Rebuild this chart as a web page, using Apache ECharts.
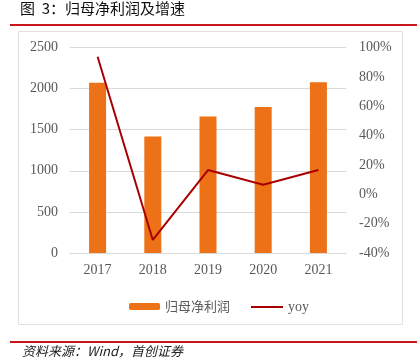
<!DOCTYPE html>
<html><head><meta charset="utf-8">
<script src="https://cdn.jsdelivr.net/npm/echarts@6/dist/echarts.min.js"></script>
<style>html,body{margin:0;padding:0;background:#fff}#c{width:417px;height:361px}</style>
</head><body><div id="c"></div>
<script>
const categories = ['2017', '2018', '2019', '2020', '2021'];
const netProfit = [2070, 1418, 1662, 1777, 2077];
const yoy = [93.7, -31.1, 16.5, 6.5, 16.5];
const leftTicks = [0, 500, 1000, 1500, 2000, 2500];
const rightTicks = [-40, -20, 0, 20, 40, 60, 80, 100];

const chart = echarts.init(document.getElementById('c'), null, {renderer: 'canvas'});
const serif = '"Liberation Serif", "Times New Roman", serif';
const cjk = '"Noto Sans CJK SC", sans-serif';
chart.setOption({
  animation: false,
  backgroundColor: '#fff',
  graphic: [
    {type: 'text', left: 20, top: 1, style: {text: '图  3：归母净利润及增速', font: '15px ' + cjk, fill: '#111'}},
    {type: 'rect', shape: {x: 10, y: 24, width: 407, height: 2}, style: {fill: '#C8161D'}},
    {type: 'rect', shape: {x: 18.5, y: 31.5, width: 384, height: 293}, style: {fill: 'none', stroke: '#E0E0E0', lineWidth: 1}},
    {type: 'rect', shape: {x: 10, y: 341, width: 407, height: 2}, style: {fill: '#C8161D'}},
    {type: 'text', left: 22, top: 345, style: {text: '资料来源：Wind，首创证券', font: 'italic 13px ' + cjk, fill: '#222'}}
  ],
  grid: {left: 70, right: 71, top: 47.5, bottom: 108, containLabel: false},
  legend: [
    {data: ['归母净利润'], left: 124, top: 295, itemWidth: 31, itemHeight: 7, itemGap: 5,
     textStyle: {color: '#595959', fontSize: 13, fontFamily: cjk}},
    {data: ['yoy'], left: 246, top: 295, itemWidth: 32, itemHeight: 2, icon: 'rect', itemGap: 5,
     textStyle: {color: '#595959', fontSize: 14, fontFamily: serif}}
  ],
  xAxis: {
    type: 'category', data: categories,
    axisLine: {lineStyle: {color: '#D9D9D9'}},
    axisTick: {show: false},
    axisLabel: {color: '#595959', fontSize: 14, fontFamily: serif, margin: 10}
  },
  yAxis: [
    {type: 'value', min: leftTicks[0], max: leftTicks[leftTicks.length - 1], interval: 500,
     axisLine: {show: false}, axisTick: {show: false},
     axisLabel: {color: '#595959', fontSize: 14, fontFamily: serif, margin: 12, formatter: v => String(v)},
     splitLine: {lineStyle: {color: '#D9D9D9'}}},
    {type: 'value', min: rightTicks[0], max: rightTicks[rightTicks.length - 1], interval: 20,
     axisLine: {show: false}, axisTick: {show: false},
     axisLabel: {color: '#595959', fontSize: 14, fontFamily: serif, margin: 13, formatter: v => v + '%'},
     splitLine: {show: false}}
  ],
  series: [
    {name: '归母净利润', type: 'bar', data: netProfit, barWidth: 17,
     itemStyle: {color: '#ED7117'}},
    {name: 'yoy', type: 'line', yAxisIndex: 1, data: yoy, symbol: 'none',
     lineStyle: {color: '#A80000', width: 2}, itemStyle: {color: '#A80000'}}
  ]
});
</script></body></html>
